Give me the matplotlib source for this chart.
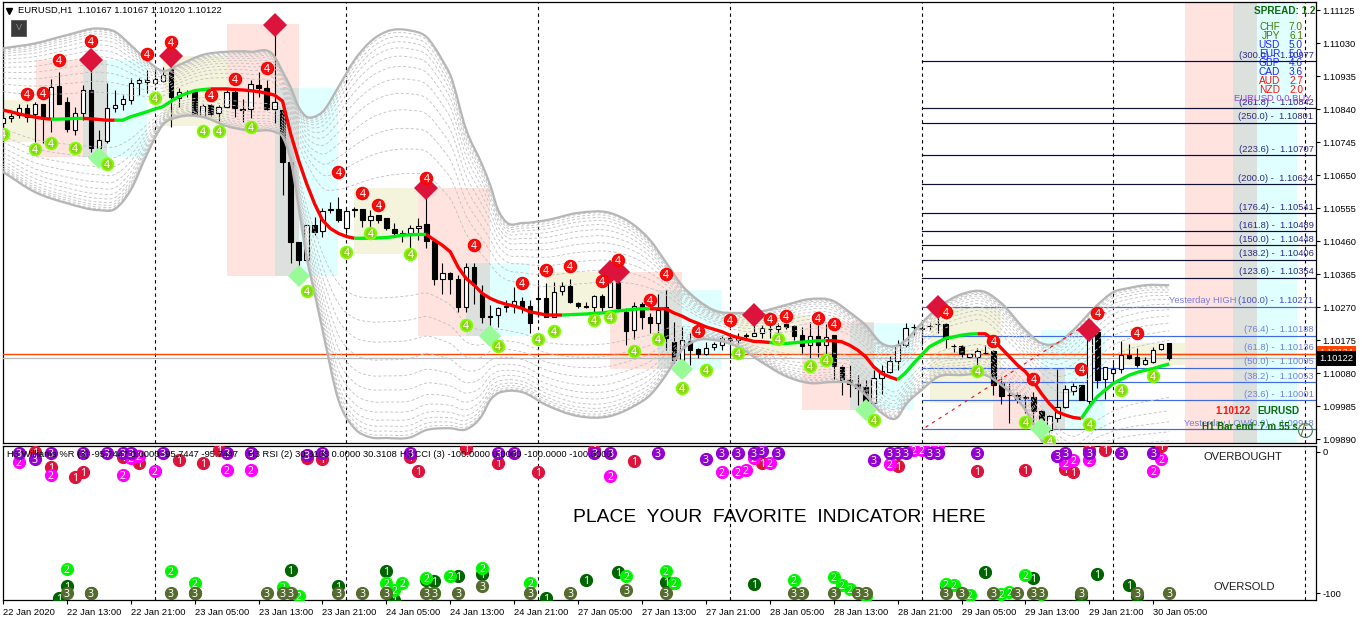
import numpy as np
import matplotlib
matplotlib.use("Agg")
import matplotlib.pyplot as plt
from matplotlib.patches import Rectangle, PathPatch
from matplotlib.path import Path
from matplotlib.lines import Line2D
from matplotlib.transforms import blended_transform_factory as btf

plt.rcParams['font.family'] = ['Liberation Sans', 'DejaVu Sans']

# ---------- price data, in points above 1.09000 ----------
BASE = 1.09
opens = [1799,1813,1823,1842,1825,1856,1813,1906,1859,1781,1828,1895,1727,1749,1842,1854,1866,1916,1917,1916,1922,1955,1871,1890,1890,1820,1852,1828,1847,1890,1838,1840,1908,1902,1840,1837,1688,1458,1405,1506,1490,1549,1551,1499,1551,1551,1520,1535,1525,1496,1484,1484,1499,1509,1461,
 1352,1369,1350,1269,1384,1307,1244,1247,1272,1273,1288,1273,1296,1295,1242,1316,1332,1283,1272,1271,1303,1271,1341,1256,1204,1278,1240,1225,1269,1170,1117,1173,1149,1134,1156,1162,1182,1175,1188,1188,1194,1206,1208,1220,1215,1189,1160,1186,1160,1189,1098,1061,1048,1040,994,1067,1082,1116,1160,
 1213,1209,1216,1221,1220,1158,1158,1125,1125,1138,1144,1050,1017,1016,1010,1010,971,915,951,983,1029,1045,1000,1199,1062,1081,1093,1132,1125,1105,1112,1148,1167]
highs = [1828,1828,1854,1856,1861,1856,1926,1948,1876,1847,1909,2000,1780,1914,1895,1880,1928,1928,1952,1957,1962,2010,1900,1895,1890,1854,1855,1852,1895,1895,1868,1924,1948,1924,2082,1856,1703,1458,1506,1530,1554,1573,1588,1554,1557,1551,1549,1535,1525,1511,1492,1506,1525,1597,1463,
 1396,1372,1362,1396,1396,1333,1276,1271,1290,1328,1300,1290,1338,1338,1343,1343,1352,1285,1285,1304,1309,1348,1348,1266,1285,1285,1252,1309,1319,1228,1213,1194,1151,1170,1168,1189,1196,1196,1196,1223,1218,1218,1225,1223,1218,1213,1228,1218,1221,1189,1103,1103,1074,1060,1088,1103,1129,1175,1223,
 1221,1232,1225,1252,1223,1163,1160,1136,1151,1160,1146,1069,1050,1026,1016,1026,973,959,1093,1045,1050,1045,1204,1199,1096,1110,1173,1165,1151,1127,1156,1165,1167]
lows = [1789,1804,1813,1804,1746,1741,1775,1856,1775,1765,1808,1717,1712,1741,1832,1837,1856,1880,1885,1909,1919,1789,1847,1875,1823,1816,1820,1804,1842,1818,1804,1813,1876,1837,1799,1592,1396,1381,1400,1477,1472,1540,1516,1482,1530,1501,1501,1511,1492,1477,1458,1439,1463,1439,1333,
 1309,1309,1256,1256,1280,1223,1208,1213,1256,1252,1252,1194,1242,1240,1240,1304,1282,1268,1266,1256,1256,1271,1261,1160,1177,1208,1194,1194,1146,1108,1084,1103,1122,1132,1146,1146,1122,1165,1175,1188,1180,1180,1194,1208,1175,1136,1122,1127,1136,1064,1016,1012,988,988,988,1021,1079,1088,1156,
 1189,1160,1204,1194,1151,1141,1127,1122,1093,1134,1016,990,935,994,964,940,935,911,940,978,1016,1002,988,1036,1004,1050,1079,1119,1098,1103,1110,1146,1117]
closes = [1813,1821,1842,1818,1856,1813,1904,1856,1782,1830,1895,1727,1751,1842,1853,1868,1914,1924,1924,1926,1938,1874,1890,1885,1826,1849,1826,1847,1888,1842,1838,1911,1902,1840,1861,1688,1458,1405,1506,1487,1547,1551,1520,1547,1549,1520,1533,1520,1498,1482,1479,1499,1504,1461,1352,
 1369,1350,1271,1384,1333,1242,1242,1266,1270,1288,1271,1223,1294,1242,1314,1332,1285,1273,1270,1303,1271,1341,1266,1202,1274,1240,1225,1261,1180,1117,1175,1146,1134,1153,1163,1180,1175,1184,1190,1194,1209,1207,1216,1213,1187,1158,1188,1160,1185,1101,1060,1048,1036,994,1067,1085,1116,1160,1211,
 1213,1208,1215,1220,1177,1157,1134,1134,1143,1137,1045,1014,1016,1004,1009,971,944,956,983,1033,1044,1002,1199,1060,1096,1093,1132,1122,1103,1117,1146,1165,1122]
ma_line = [1837,1832,1826,1821,1817,1813,1811,1811,1812,1813,1813,1812,1810,1808,1808,1808,1818,1825,1832,1840,1847,1862,1876,1885,1893,1896,1898,1898,1898,1896,1895,1893,1890,1886,1880,1863,1770,1693,1626,1568,1520,1496,1482,1473,1468,1468,1468,1469,1470,1473,1477,1478,1479,1479,1463,1448,1429,1384,
 1352,1333,1309,1295,1285,1278,1273,1266,1256,1252,1247,1247,1247,1248,1249,1250,1252,1253,1256,1259,1261,1264,1265,1265,1265,1265,1253,1244,1232,1223,1213,1206,1199,1189,1182,1177,1171,1170,1168,1165,1165,1167,1169,1171,1173,1173,1173,1170,1160,1146,1127,1098,1079,1069,1061,1081,1108,1132,1156,1168,1180,1184,1189,1192,1193,1193,1175,1151,1127,1103,1084,1055,1021,992,968,959,952,949,983,1012,1031,1050,1062,1074,1082,1088,1093,1100,1106]
ma_breaks = [0,6,10,14,26,44,53,70,81,96,103,112,122,135,146]

band_bars = [0,4,8,12,14,16,18,20,22,25,28,31,34,35,36,37,38,39,40,42,44,46,48,51,53,55,56,58,60,61,62,63,65,68,72,76,79,81,83,85,87,89,92,95,98,101,104,106,108,110,112,113,115,117,120,123,125,128,130,132,134,137,139,141,143,146]
band_upper = [2015,2029,2053,2072,2063,2024,1981,1950,1967,1996,2005,2005,1991,1948,1904,1847,1818,1818,1832,1904,1981,2034,2063,2066,2048,1981,1938,1780,1679,1621,1549,1515,1512,1520,1541,1541,1506,1463,1399,1333,1290,1261,1253,1258,1276,1293,1287,1255,1218,1166,1160,1175,1224,1267,1307,1313,1281,1204,1166,1166,1204,1276,1313,1325,1333,1333]
band_lower = [1659,1601,1569,1549,1552,1607,1708,1794,1817,1817,1791,1777,1774,1760,1693,1559,1414,1310,1204,1002,921,895,893,895,916,921,921,918,959,1002,1022,1028,1025,988,956,956,985,1016,1074,1146,1175,1175,1155,1111,1071,1051,1054,1051,1016,965,953,988,1031,1068,1074,1074,1045,973,887,815,772,786,786,786,786,786]
band_steps = [0.30,0.42,0.52,0.61,0.69,0.76,0.82,0.87,0.91,0.94,0.965,0.985]

beige_boxes = [(0,5,1866,1745),(20,29,1993,1791),(44,53,1613,1422),(68,76,1371,1247),(92,101,1247,1137),(116,125,1270,993),(140,149,1166,1103)]
pink_boxes = [(4.1,10,1981,1702),(28,37,2085,1901),(28,34,1901,1359),(52,61,1613,1397),(52,58,1397,1186),(76,85,1371,1319),(76,82,1319,1091),(100,109,1227,973),(124,133,1094,918),(148,154,2147,877)]
grey_boxes = [(10,13,1981,1702),(34,37,1901,1359),(58,61,1397,1186),(82,85,1319,1091),(106,109,1224,973),(130,133,1094,918),(154,157,2147,877)]
cyan_boxes = [(13,18,1981,1702),(37,42,1901,1359),(61,66,1397,1186),(85,90,1319,1091),(109,114,1224,973),(130,138,1204,918),(157,162,2147,877)]

red_diamond_bars = [11,21,34,53,76,77,94,117,136]
red_diamond_vals = [1981,1993,2082,1613,1371,1371,1247,1270,1204]
green_diamond_bars = [12,37,61,85,108,130]
green_diamond_vals = [1699,1359,1186,1091,973,918]

red4_bars = [3,5,7,11,18,21,26,29,33,42,45,47,53,59,65,68,71,75,77,81,83,87,91,96,98,102,104,118,124,129,135,137,142]
red4_vals = [1883,1886,1981,2036,1998,2033,1880,1926,1958,1659,1598,1564,1641,1448,1339,1376,1388,1345,1405,1290,1365,1201,1232,1235,1244,1238,1221,1255,1172,1062,1091,1253,1195]
green4_bars = [0,4,6,9,13,19,25,27,31,38,43,46,51,58,62,67,69,74,76,79,82,85,88,92,97,101,103,109,122,128,131,136,140,144]
green4_vals = [1768,1725,1742,1728,1682,1872,1777,1777,1788,1316,1428,1483,1422,1218,1158,1178,1201,1232,1241,1143,1178,1037,1088,1137,1178,1100,1117,944,1086,939,884,933,1031,1071]

fib_levels = ['300.0','261.8','250.0','223.6','200.0','176.4','161.8','150.0','138.2','123.6','100.0','76.4','61.8','50.0','38.2','23.6','0.0']
fib_prices = [1.10977,1.10842,1.10801,1.10707,1.10624,1.10541,1.10489,1.10448,1.10406,1.10354,1.10271,1.10188,1.10136,1.10095,1.10053,1.10001,1.09918]
fib_colors = ['#000080','#101030','#000080','#000080','#101030','#000080','#000080','#101030','#101030','#101030','#4169e1','#4169e1','#4169e1','#4169e1','#4169e1','#4169e1','#4169e1']

currencies = ['CHF','JPY','USD','EUR','GBP','CAD','AUD','NZD']
strengths = ['7.0','6.1','5.0','5.0','4.6','3.6','2.7','2.0']
strength_colors = ['#3c7d00','#3c7d00','#2222ff','#2222ff','#2222ff','#2222ff','#ff1010','#ff1010']

price_ticks = [1.09890,1.09985,1.10080,1.10175,1.10270,1.10365,1.10460,1.10555,1.10650,1.10745,1.10840,1.10935,1.11030,1.11125]
time_labels = ['22 Jan 2020','22 Jan 13:00','22 Jan 21:00','23 Jan 05:00','23 Jan 13:00','23 Jan 21:00','24 Jan 05:00','24 Jan 13:00','24 Jan 21:00','27 Jan 05:00','27 Jan 13:00','27 Jan 21:00','28 Jan 05:00','28 Jan 13:00','28 Jan 21:00','29 Jan 05:00','29 Jan 13:00','29 Jan 21:00','30 Jan 05:00']
day_lines = [19,43,67,91,115,139,163]

# oscillator dots
top1_bars = [4,6,9,10,15,17,22,25,27,31,38,40,51,52,58,62,67,74,79,95,112,122,128,133,134,136,138,145]
top1_vals = [0,-10.4,-17.4,-13.9,-3.3,-8,-5.6,-7.5,1.4,-0.9,-4.5,-5.2,-3.8,-13.4,2.6,-7.5,-14.4,1.4,-6.1,-7.5,-10,-13.4,-12.7,-12.3,-14.4,1.4,1.4,4]
top2_bars = [2,6,15,16,17,19,28,31,76,90,92,93,94,96,111,114,115,116,117,133,134,136,144,145]
top2_vals = [-7.3,-16.3,-16.3,-4.5,-2.8,-13.4,-12.7,-12.7,-16.8,-14,-14,-12.7,-4.5,-8,-8.5,1.4,1.4,4,4,-8,-6,-5.7,-13.2,-5]
top3_bars = [2,4,6,10,13,15,16,20,28,31,38,40,51,62,64,74,76,82,88,90,92,94,95,97,109,111,112,113,116,117,122,132,133,136,140,144]
top3_vals = [-0.5,-4.9,-0.5,-0.5,-0.5,-0.5,-0.5,-0.5,-0.5,-0.5,-2,-0.5,-0.5,-0.5,-0.5,-0.5,-0.5,-0.5,-5,-0.5,-0.5,-0.5,0.5,-0.5,-5.7,-0.5,-0.5,-0.5,-0.5,-0.5,-0.5,-2.6,-0.5,-0.5,-0.5,-0.5]
low1_bars = [7,8,11,24,36,42,48,49,53,54,57,60,68,73,77,83,84,94,118,123,129,135,137,141,142]
low1_vals = [-103.6,-95.3,-100,-99.6,-83.5,-95.3,-84.2,-104.8,-90.6,-91.3,-87.8,-86.4,-103.6,-91,-85.4,-91.8,-93,-93.5,-95,-85,-89,-102.4,-86.4,-94.6,-102.4]
low2_bars = [8,21,24,35,37,48,49,50,53,54,56,60,66,78,83,84,99,104,105,106,108,118,119,121,125,126,128,130]
low2_vals = [-82.8,-84.2,-93,-95.8,-102.4,-92.5,-97.7,-92.5,-89.4,-100,-88.2,-82.4,-93,-87.8,-84,-92.5,-90.6,-88.7,-94.6,-97,-102.4,-93.5,-94.6,-101.2,-101,-99,-87.5,-101]
low3_bars = [8,11,21,24,33,35,36,42,45,48,53,54,57,60,66,71,78,83,99,100,104,107,108,118,120,124,127,129,130,135,142,146]
low3_vals = [-100,-100,-100,-100,-100,-100,-100,-100,-100,-100,-100,-100,-100,-95.3,-100,-100,-97.7,-100,-100,-100,-100,-100,-100,-100,-100,-100,-100,-100,-100,-100,-100,-100]

# ---------- layout ----------
W, H = 1362, 621
fig = plt.figure(figsize=(W/100, H/100), dpi=100, facecolor='white')
def rect_px(x0, y0, x1, y1):
    return [x0/W, 1-y1/H, (x1-x0)/W, (y1-y0)/H]
ax = fig.add_axes(rect_px(2.5, 2.5, 1316.5, 443))
ax2 = fig.add_axes(rect_px(2.5, 446, 1316.5, 600))
xlim = (-0.06, 164.44)
P = lambda v: BASE + np.asarray(v, float)*1e-5
ax.set_xlim(*xlim); ax2.set_xlim(*xlim)
ax.set_ylim(P(878.6), P(2146.8))
ax2.set_ylim(-104.9, 4.25)
for a in (ax, ax2):
    for s in a.spines.values():
        s.set_linewidth(0.9); s.set_color('black')

TXT = ['Liberation Sans', 'DejaVu Sans']
FS = 6.75
FS2 = 7.3
BIG = ['Noto Sans', 'DejaVu Sans']

def boxes(spec, color, z=1):
    for x0, x1, top, bot in spec:
        ax.add_patch(Rectangle((x0, P(bot)), x1-x0, P(top)-P(bot), fc=color, ec='none', zorder=z))
boxes(beige_boxes, '#f4f3dc', 1)
boxes(pink_boxes, '#ffe3df', 1.1)
boxes(cyan_boxes, '#e0ffff', 1.2)
boxes(grey_boxes, '#dde1de', 1.3)

for a in (ax, ax2):
    for b in day_lines:
        a.axvline(b, color='black', lw=0.8, ls=(0, (3, 3)), zorder=2)

# candles
bars = np.arange(len(opens))
o, h, l, c = P(opens), P(highs), P(lows), P(closes)
ax.vlines(bars, l, h, color='black', lw=0.8, zorder=3)
up = c >= o
ax.bar(bars[up], np.maximum(c-o, 1e-5)[up], bottom=np.minimum(o, c)[up], width=0.55, fc='white', ec='black', lw=0.8, zorder=3.1)
ax.bar(bars[~up], np.maximum(o-c, 1e-5)[~up], bottom=np.minimum(o, c)[~up], width=0.55, fc='black', ec='black', lw=0.8, zorder=3.1)

# bands: drawn as smooth curves through the read knots
def curve(a, xs, ys, **kw):
    xs = np.asarray(xs, float); ys = np.asarray(ys, float)
    m = np.gradient(ys, xs)
    verts = [(xs[0], ys[0])]; codes = [Path.MOVETO]
    for i in range(len(xs)-1):
        dt = xs[i+1]-xs[i]
        verts += [(xs[i]+dt/3, ys[i]+m[i]*dt/3), (xs[i+1]-dt/3, ys[i+1]-m[i+1]*dt/3), (xs[i+1], ys[i+1])]
        codes += [Path.CURVE4]*3
    a.add_patch(PathPatch(Path(verts, codes), fill=False, **kw))

bb = np.array(band_bars)
mid = P(ma_line)[bb]; bu = P(band_upper); bl = P(band_lower)
for k in band_steps:
    curve(ax, bb, mid+k*(bu-mid), ec='#c2c2c2', lw=0.62, ls=(0, (3.5, 2.5)), zorder=4)
    curve(ax, bb, mid+k*(bl-mid), ec='#c2c2c2', lw=0.62, ls=(0, (3.5, 2.5)), zorder=4)
curve(ax, bb, bu, ec='#b6b6b6', lw=1.6, zorder=4.1)
curve(ax, bb, bl, ec='#b6b6b6', lw=1.6, zorder=4.1)

# fib lines and texts
xr = 164.05
fib_x0 = 115
for lev, pr, col in zip(fib_levels, fib_prices, fib_colors):
    ax.plot([fib_x0, 164.4], [pr, pr], color=col, lw=0.85, zorder=2.5)
    dark = float(lev) > 100
    tc = '#2a2a86' if dark else ('#4a4ac8' if lev == '100.0' else '#6f80dc')
    ax.annotate(f'({lev}) -  {pr:.5f}', (xr, pr), xytext=(0, 1), textcoords='offset points',
                ha='right', va='bottom', fontsize=FS, family=TXT, color=tc, zorder=9)
ax.annotate('Yesterday HIGH', (154.4, fib_prices[10]), xytext=(0, 1), textcoords='offset points',
            ha='right', va='bottom', fontsize=FS, family=TXT, color='#7b7bdc', zorder=9)
ax.annotate('Yesterday LOW', (156.0, fib_prices[16]), xytext=(0, 1), textcoords='offset points',
            ha='right', va='bottom', fontsize=FS, family=TXT, color='#7b7bdc', zorder=9)

# price lines
ax.axhline(1.10134, color='#ff4500', lw=1.0, zorder=2.6)
ax.axhline(1.10122, color='#b8b8b8', lw=0.9, zorder=2.6)
# diagonal
ax.plot([115.5, 138.4], [P(924), P(1261)], color='#ee1111', lw=0.8, ls=(0, (3, 4)), zorder=4.5)

# MA
ma = P(ma_line)
for n in range(len(ma_breaks)-1):
    s, e = ma_breaks[n], ma_breaks[n+1]
    ax.plot(bars[s:e+1], ma[s:e+1], color='#ff0000' if n % 2 == 0 else '#00ee11', lw=2.4,
            solid_capstyle='butt', zorder=5)

# diamonds
ax.plot(red_diamond_bars, P(red_diamond_vals), 'D', color='#dc143c', ms=12, mew=0, zorder=6)
ax.plot(green_diamond_bars, P(green_diamond_vals), 'D', color='#98fb98', ms=11, mew=0, zorder=6)

# numbered dots
def dots(a, xs, ys, digit, face, edge=None, tc='white', z=7, ms=8.2, mew=0.9):
    a.plot(xs, ys, 'o', ms=ms, mfc=face, mec=edge or face, mew=mew, zorder=z, clip_on=True)
    for x, y in zip(xs, ys):
        a.text(x, y, digit, ha='center', va='center_baseline', color=tc, fontsize=7.5,
               family=BIG, fontweight='medium', zorder=z+0.1, clip_on=True)
dots(ax, red4_bars, P(red4_vals), '4', '#f01010', '#ff0000', ms=8.8)
dots(ax, green4_bars, P(green4_vals), '4', '#8ed01a', '#7fff00', ms=8.4, mew=1.3)

dots(ax2, top1_bars, top1_vals, '1', '#dc143c', z=7, ms=8.6)
dots(ax2, top2_bars, top2_vals, '2', '#ff00ff', z=7.2, ms=8.6)
dots(ax2, top3_bars, top3_vals, '3', '#9400d3', z=7.4, ms=8.6)
dots(ax2, low1_bars, low1_vals, '1', '#006400', z=7, ms=8.6)
dots(ax2, low2_bars, low2_vals, '2', '#00ee00', '#00ff00', z=7.2, ms=8.6)
dots(ax2, low3_bars, low3_vals, '3', '#556b2f', z=7.4, ms=8.6)

# ---------- axes ticks ----------
ax.set_xticks([])
ax.yaxis.tick_right()
ax.set_yticks(price_ticks)
ax.set_yticklabels([f'{p:.5f}' for p in price_ticks], fontsize=FS, family=TXT)
ax.tick_params(axis='y', length=3, width=0.8, pad=1.5)
ax2.yaxis.tick_right()
ax2.set_yticks([0, -100]); ax2.set_yticklabels(['0', '-100'], fontsize=FS, family=TXT)
ax2.tick_params(axis='y', length=3, width=0.8, pad=1.5)
tb = np.arange(len(time_labels))*8
ax2.set_xticks(tb)
ax2.set_xticklabels(time_labels, fontsize=FS, family=TXT, ha='left')
ax2.tick_params(axis='x', length=3, width=0.8, pad=2.5)

# price tags
tr = btf(ax.transAxes, ax.transData)
ax.text(1.0022, 1.10138, '1.10134', transform=tr, ha='left', va='center', fontsize=FS, family=TXT, color='white',
        bbox=dict(fc='#ff4500', ec='none', pad=1.6), clip_on=False, zorder=10)
ax.text(1.0022, 1.10122, '1.10122', transform=tr, ha='left', va='center', fontsize=FS, family=TXT, color='white',
        bbox=dict(fc='black', ec='none', pad=2.0), clip_on=False, zorder=11)

# ---------- overlay texts, in figure pixels ----------
def T(x, y, s, **kw):
    kw.setdefault('family', TXT); kw.setdefault('fontsize', FS); kw.setdefault('va', 'center')
    return fig.text(x/W, 1-y/H, s, zorder=20, **kw)

T(18, 10.5, 'EURUSD,H1  1.10167 1.10167 1.10120 1.10122', color='black')
fig.add_artist(Line2D([9/W], [1-10.5/H], marker='v', ms=5, color='black', transform=fig.transFigure))
fig.add_artist(Rectangle((11/W, 1-36/H), 15/W, 16/H, fc='#3a3a3a', ec='#555555', lw=0.6, transform=fig.transFigure))
T(18.5, 28, 'V', color='#8a8a8a', ha='center', fontsize=6.5)
T(1315, 11, 'SPREAD: 1.2', ha='right', color='#0a6a0a', fontweight='bold', fontsize=7.2)
for n, (cur, val, col) in enumerate(zip(currencies, strengths, strength_colors)):
    T(1280, 27+9*n, cur, ha='right', color=col, fontsize=FS2)
    T(1303, 27+9*n, val, ha='right', color=col, fontsize=FS2)
T(1311, 98.5, 'EURUSD 0.0 BUY', ha='right', color='#a040e0', fontsize=FS)
T(1251, 411.5, '1.10122', ha='right', color='#ff1010', fontweight='bold', fontsize=7.0)
T(1257, 411.5, 'EURUSD', ha='left', color='#0a6a0a', fontweight='bold', fontsize=7.2)
T(1202, 427.5, 'H1 Bar end: 7 m 55 s', ha='left', color='#0a6a0a', fontweight='bold', fontsize=7.0)
fig.add_artist(Line2D([1305/W], [1-430/H], marker='o', ms=10, mfc='none', mec='#4a8a70', mew=0.9, transform=fig.transFigure))
fig.add_artist(Line2D([1305/W, 1301/W], [1-423/H, 1-436/H], color='#6a7a20', lw=0.8, transform=fig.transFigure))

T(7, 454.5, 'H3 Williams %R (3) -95.7447 0.0000 -95.7447 -95.7447', color='black')
T(248, 454.5, 'H3 RSI (2) 30.3108 0.0000 30.3108', color='black')
T(400, 454.5, 'H3 CCI (3) -100.0000 0.0000 -100.0000 -100.0000', color='black')
T(1243, 457, 'OVERBOUGHT', ha='center', color='#1a1a1a', fontsize=8)
T(1244, 587, 'OVERSOLD', ha='center', color='#1a1a1a', fontsize=8)
T(779, 517, 'PLACE  YOUR  FAVORITE  INDICATOR  HERE', ha='center', color='black', fontsize=13.9, family='Liberation Sans')

fig.savefig('out.png', dpi=100)
